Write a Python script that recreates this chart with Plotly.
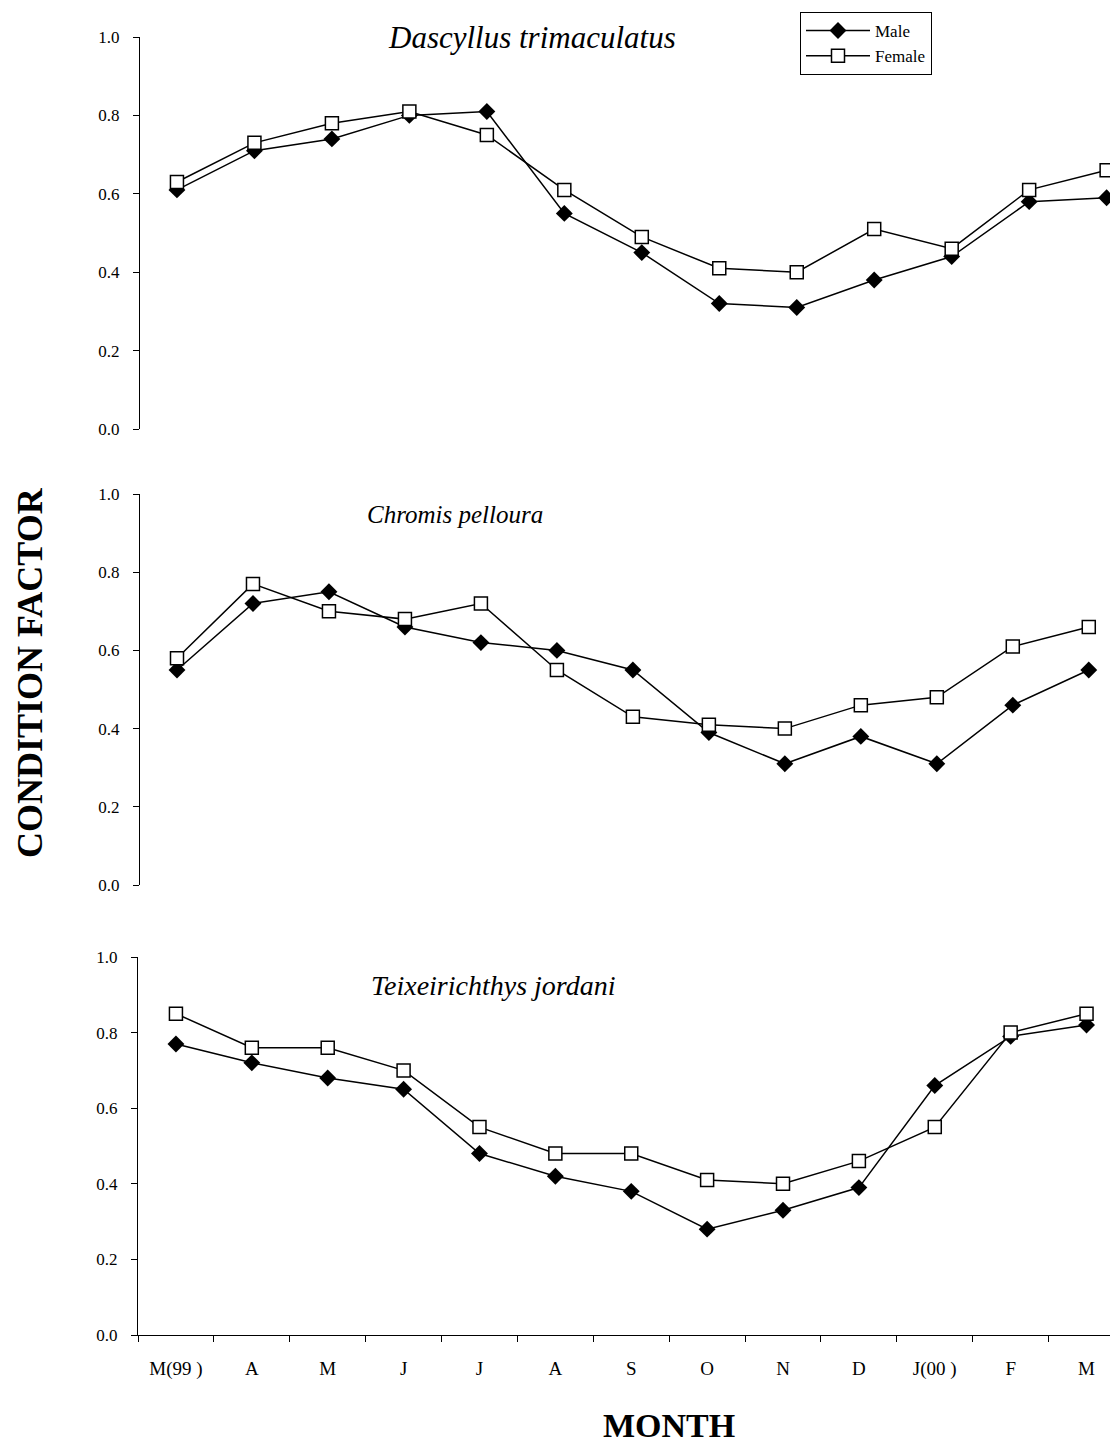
import plotly.graph_objects as go

W, H = 1118, 1446
OFF = 8  # page body margin offset

months = ["M(99 )", "A", "M", "J", "J", "A", "S", "O", "N", "D", "J(00 )", "F", "M"]
x_idx = list(range(len(months)))

species = ["Dascyllus trimaculatus", "Chromis pelloura", "Teixeirichthys jordani"]

dascyllus_male = [0.61, 0.71, 0.74, 0.80, 0.81, 0.55, 0.45, 0.32, 0.31, 0.38, 0.44, 0.58, 0.59]
dascyllus_female = [0.63, 0.73, 0.78, 0.81, 0.75, 0.61, 0.49, 0.41, 0.40, 0.51, 0.46, 0.61, 0.66]

chromis_male = [0.55, 0.72, 0.75, 0.66, 0.62, 0.60, 0.55, 0.39, 0.31, 0.38, 0.31, 0.46, 0.55]
chromis_female = [0.58, 0.77, 0.70, 0.68, 0.72, 0.55, 0.43, 0.41, 0.40, 0.46, 0.48, 0.61, 0.66]

teix_male = [0.77, 0.72, 0.68, 0.65, 0.48, 0.42, 0.38, 0.28, 0.33, 0.39, 0.66, 0.79, 0.82]
teix_female = [0.85, 0.76, 0.76, 0.70, 0.55, 0.48, 0.48, 0.41, 0.40, 0.46, 0.55, 0.80, 0.85]

y_ticks = [0.0, 0.2, 0.4, 0.6, 0.8, 1.0]

FONT = "Liberation Serif, Times New Roman, serif"

panels = [
    (dascyllus_male, dascyllus_female),
    (chromis_male, chromis_female),
    (teix_male, teix_female),
]

fig = go.Figure()
for i, (m, f) in enumerate(panels):
    sfx = "" if i == 0 else str(i + 1)
    fig.add_trace(go.Scatter(
        x=x_idx, y=m, mode="lines+markers", name="Male",
        xaxis="x" + sfx, yaxis="y" + sfx, showlegend=(i == 0),
        line=dict(color="black", width=1.5),
        marker=dict(symbol="diamond", size=13, color="black"),
    ))
    fig.add_trace(go.Scatter(
        x=x_idx, y=f, mode="lines+markers", name="Female",
        xaxis="x" + sfx, yaxis="y" + sfx, showlegend=(i == 0),
        line=dict(color="black", width=1.5),
        marker=dict(symbol="square", size=13, color="white",
                    line=dict(color="black", width=1.5)),
    ))

# screen-pixel geometry: (axis left px, x range, y top px, y bottom px)
geom = [
    (140, [-0.477, 12.25], 37, 429),
    (140, [-0.487, 12.49], 494, 885),
    (138, [-0.5, 12.52], 957, 1335),
]

layout = dict(
    width=W, height=H,
    margin=dict(l=0, r=0, t=0, b=0, autoexpand=False),
    paper_bgcolor="white", plot_bgcolor="white",
    font=dict(family=FONT, color="black", size=17),
    showlegend=True,
    legend=dict(
        x=(800 - OFF) / W, y=1 - (12 - OFF) / H, xanchor="left", yanchor="top",
        bordercolor="black", borderwidth=1, bgcolor="white",
        font=dict(family=FONT, size=17), itemwidth=64,
        tracegroupgap=0,
    ),
)

for i, (ax_left, xr, ytop, ybot) in enumerate(geom):
    sfx = "" if i == 0 else str(i + 1)
    last = i == 2
    xa = dict(
        domain=[(ax_left - OFF) / W, 1.0], range=xr, automargin=False,
        anchor="y" + sfx, showgrid=False, zeroline=False,
        visible=last,
    )
    if last:
        xa.update(
            showline=True, linecolor="black", linewidth=1,
            tickmode="array", tickvals=x_idx, ticktext=months,
            ticks="", tickfont=dict(family=FONT, size=19),
            ticklabelstandoff=16,
            minor=dict(tickmode="array",
                       tickvals=[k - 0.5 for k in range(len(months) + 1)],
                       ticks="outside", ticklen=6, tickcolor="black",
                       tickwidth=1, showgrid=False),
        )
    ya = dict(
        domain=[1 - (ybot - OFF) / H, 1 - (ytop - OFF) / H], range=[0, 1.0],
        anchor="x" + sfx, showgrid=False, zeroline=False, automargin=False,
        showline=True, linecolor="black", linewidth=1,
        tickmode="array", tickvals=y_ticks,
        ticktext=["%.1f" % v for v in y_ticks],
        ticks="outside", ticklen=6, tickcolor="black",
        tickfont=dict(family=FONT, size=17), ticklabelstandoff=10,
    )
    layout["xaxis" + sfx] = xa
    layout["yaxis" + sfx] = ya

title_pos = [(532, 37, 31), (455, 515, 25), (493, 985, 28)]
annotations = []
for name, (px, py, fs) in zip(species, title_pos):
    annotations.append(dict(
        text="<i>" + name + "</i>", x=(px - OFF) / W, y=1 - (py - OFF) / H,
        xref="paper", yref="paper", showarrow=False,
        xanchor="center", yanchor="middle",
        font=dict(family=FONT, size=fs),
    ))
annotations.append(dict(
    text="<b>CONDITION FACTOR</b>", x=(30 - OFF) / W, y=1 - (673 - OFF) / H,
    xref="paper", yref="paper", showarrow=False, textangle=-90,
    xanchor="center", yanchor="middle",
    font=dict(family=FONT, size=36),
))
annotations.append(dict(
    text="<b>MONTH</b>", x=(669 - OFF) / W, y=1 - (1425 - OFF) / H,
    xref="paper", yref="paper", showarrow=False,
    xanchor="center", yanchor="middle",
    font=dict(family=FONT, size=34),
))
layout["annotations"] = annotations

fig.update_layout(**layout)
fig.write_html("out.html")
